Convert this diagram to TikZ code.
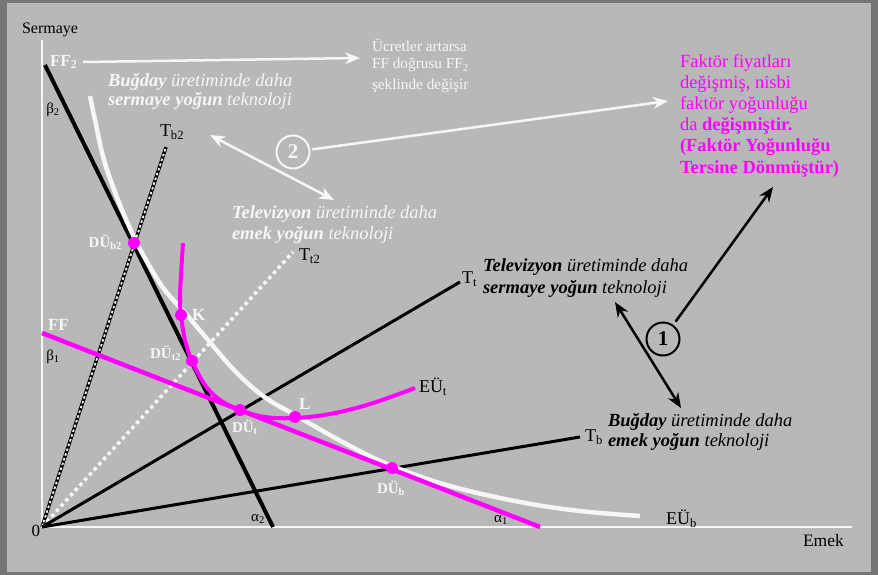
\documentclass[tikz,border=0pt]{standalone}
\usepackage{fontspec}
\setmainfont{Liberation Serif}
\usetikzlibrary{arrows.meta}
\definecolor{bgc}{RGB}{184,184,184}
\definecolor{frm}{RGB}{118,118,118}
\definecolor{mag}{RGB}{255,0,255}
\definecolor{wt}{RGB}{246,246,246}
\begin{document}
\begin{tikzpicture}[x=1pt,y=-1pt,
  txt/.style={inner sep=0pt, outer sep=0pt},
  big/.style={txt, align=left, font=\fontsize{18.5}{21}\selectfont},
  lab/.style={txt, font=\fontsize{18}{20}\selectfont},
  small/.style={txt, font=\fontsize{15}{17}\selectfont},
  dulab/.style={txt, text=wt, font=\bfseries\fontsize{15}{17}\selectfont},
  dot/.style={circle, fill=mag, minimum size=12pt, inner sep=0pt},
  ray/.style={line width=3pt, black},
  warr/.style={draw=wt, line width=2.5pt, -{Stealth[length=15pt,width=12pt]}},
  wdarr/.style={draw=wt, line width=2.5pt, {Stealth[length=15pt,width=12pt]}-{Stealth[length=15pt,width=12pt]}},
  barr/.style={draw=black, line width=2.5pt, -{Stealth[length=15pt,width=12pt]}},
  bdarr/.style={draw=black, line width=2.5pt, {Stealth[length=15pt,width=12pt]}-{Stealth[length=15pt,width=12pt]}},
  numc/.style={circle, line width=2pt, minimum size=33pt, inner sep=0pt, font=\bfseries\fontsize{21}{21}\selectfont}
]
\fill[frm] (0,0) rectangle (878,575);
\fill[bgc] (7,3.5) rectangle (871,571.5);
\useasboundingbox (0,0) rectangle (878,575);

% coordinates
\coordinate (O) at (42,527);
\coordinate (ytop) at (42,40);
\coordinate (xend) at (852,527);
\coordinate (Tb2e) at (166,147);
\coordinate (Tt2e) at (293,252);
\coordinate (Tte) at (460,282);
\coordinate (Tbe) at (580,437);
\coordinate (F2a) at (45,65);
\coordinate (F2b) at (273,527);
\coordinate (Fa) at (42,333);
\coordinate (Fb) at (540,527);

% axes
\draw[wt, line width=2pt] (ytop) -- (O) -- (xend);

% rays
\draw[black, line width=3.5pt] (O) -- (Tb2e);
\draw[wt, line width=1.8pt, dash pattern=on 2.5pt off 2.5pt] (O) -- (Tb2e);
\draw[wt, line width=3.5pt, dash pattern=on 3.5pt off 3.5pt] (O) -- (Tt2e);
\draw[ray] (O) -- (Tte);
\draw[ray] (O) -- (Tbe);

% budget line FF2
\draw[black, line width=4pt] (F2a) -- (F2b);

% isoquant wheat (white)
\draw[wt, line width=4.5pt] plot[smooth, tension=0.6] coordinates {(90,96) (95,120) (104,160) (118,200) (133,235) (146,260) (164,289) (186,314) (208,340) (235,371) (263,396) (295,415) (350,446) (392,466) (450,486) (520,502) (580,511) (640,516)};

% budget line FF
\draw[mag, line width=4.5pt] (Fa) -- (Fb);

% isoquant tv (magenta)
\draw[mag, line width=4pt] plot[smooth, tension=0.6] coordinates {(183,243) (181,275) (180,298) (181,315) (185,340) (192,361) (205,385) (220,400) (240,410) (265,417) (295,418) (330,414) (370,404) (415,388)};

% points
\node[dot] (DUb2) at (134,243) {};
\node[dot] (K) at (181,315) {};
\node[dot] (DUt2) at (192,361) {};
\node[dot] (DUt) at (240,410) {};
\node[dot] (L) at (295,417) {};
\node[dot] (DUb) at (392,468) {};

% point labels
\node[dulab, anchor=east] (lDUb2) at (122,242) {DÜ\textsubscript{b2}};
\node[dulab, anchor=east] (lDUt2) at (181,353) {DÜ\textsubscript{t2}};
\node[dulab, anchor=west] (lDUt) at (232,427) {DÜ\textsubscript{t}};
\node[dulab] (lDUb) at (391,488) {DÜ\textsubscript{b}};
\node[txt, text=wt, font=\bfseries\fontsize{17}{19}\selectfont, anchor=west] (lK) at (192,315) {K};
\node[txt, text=wt, font=\bfseries\fontsize{17}{19}\selectfont, anchor=west] (lL) at (299,404) {L};

% axis and line labels
\node[txt, font=\fontsize{16}{18}\selectfont, anchor=base west] (lS) at (22,34) {Sermaye};
\node[txt, font=\fontsize{17}{18}\selectfont, anchor=east] (l0) at (40,531) {0};
\node[txt, font=\fontsize{17.5}{18}\selectfont, anchor=base west] (lE) at (803,546) {Emek};
\node[lab, anchor=west] (lTb2) at (160,132) {T\textsubscript{b2}};
\node[lab, anchor=west] (lTt2) at (299,256) {T\textsubscript{t2}};
\node[lab, anchor=west] (lTt) at (462,279) {T\textsubscript{t}};
\node[lab, anchor=west] (lTb) at (585,437) {T\textsubscript{b}};
\node[lab, anchor=west] (lEUt) at (419,387) {EÜ\textsubscript{t}};
\node[lab, anchor=west] (lEUb) at (666,519) {EÜ\textsubscript{b}};
\node[txt, text=wt, font=\bfseries\fontsize{17}{19}\selectfont, anchor=west] (lFF2) at (50,62) {FF\textsubscript{2}};
\node[txt, text=wt, font=\bfseries\fontsize{17}{19}\selectfont, anchor=west] (lFF) at (48,325) {FF};
\node[small] (lb2) at (53,110) {β\textsubscript{2}};
\node[small] (lb1) at (53,357) {β\textsubscript{1}};
\node[small] (la2) at (258,519) {α\textsubscript{2}};
\node[small] (la1) at (501,520) {α\textsubscript{1}};

% texts (base anchor = baseline of the last line)
\node[big, text=wt, anchor=base west, font=\itshape\fontsize{18.5}{19}\selectfont] (tB2) at (108,106)
  {\textbf{Buğday} üretiminde daha\\\textbf{sermaye yoğun} teknoloji};
\node[big, text=wt, anchor=base west, font=\itshape\fontsize{18.5}{21}\selectfont] (tTV2) at (232,239)
  {\textbf{Televizyon} üretiminde daha\\\textbf{emek yoğun} teknoloji};
\node[big, anchor=base west, font=\itshape\fontsize{18.5}{22}\selectfont] (tTV) at (483,293)
  {\textbf{Televizyon} üretiminde daha\\\textbf{sermaye yoğun} teknoloji};
\node[big, anchor=base west, font=\itshape\fontsize{18.5}{20}\selectfont] (tB) at (608,446)
  {\textbf{Buğday} üretiminde daha\\\textbf{emek yoğun} teknoloji};
\node[txt, text=wt, align=left, anchor=base west, font=\fontsize{15.3}{17}\selectfont] (tU) at (372,90)
  {Ücretler artarsa\\FF doğrusu FF\textsubscript{2}\\[4pt]şeklinde değişir};
\node[big, text=mag, anchor=base west, font=\fontsize{18.5}{21.2}\selectfont] (tF) at (680,173)
  {Faktör fiyatları\\değişmiş, nisbi\\faktör yoğunluğu\\da \textbf{değişmiştir.}\\\textbf{(Faktör Yoğunluğu}\\\textbf{Tersine Dönmüştür)}};

% circles
\node[numc, draw=wt, text=wt] (c2) at (293,152) {2};
\node[numc, draw=black, text=black] (c1) at (663,339) {1};

% arrows
\coordinate (aU) at (360,58);
\coordinate (aF) at (668,101);
\coordinate (d2a) at (210,135);
\coordinate (d2b) at (334,200);
\coordinate (aF1) at (773,187);
\coordinate (d1a) at (615,302);
\coordinate (d1b) at (681,408);
\draw[warr] ([xshift=6pt]lFF2.east) -- (aU);
\draw[warr, shorten <=2pt] (c2) -- (aF);
\draw[wdarr] (d2a) -- (d2b);
\draw[barr, shorten <=4pt] (c1) -- (aF1);
\draw[bdarr] (d1a) -- (d1b);
\end{tikzpicture}
\end{document}
